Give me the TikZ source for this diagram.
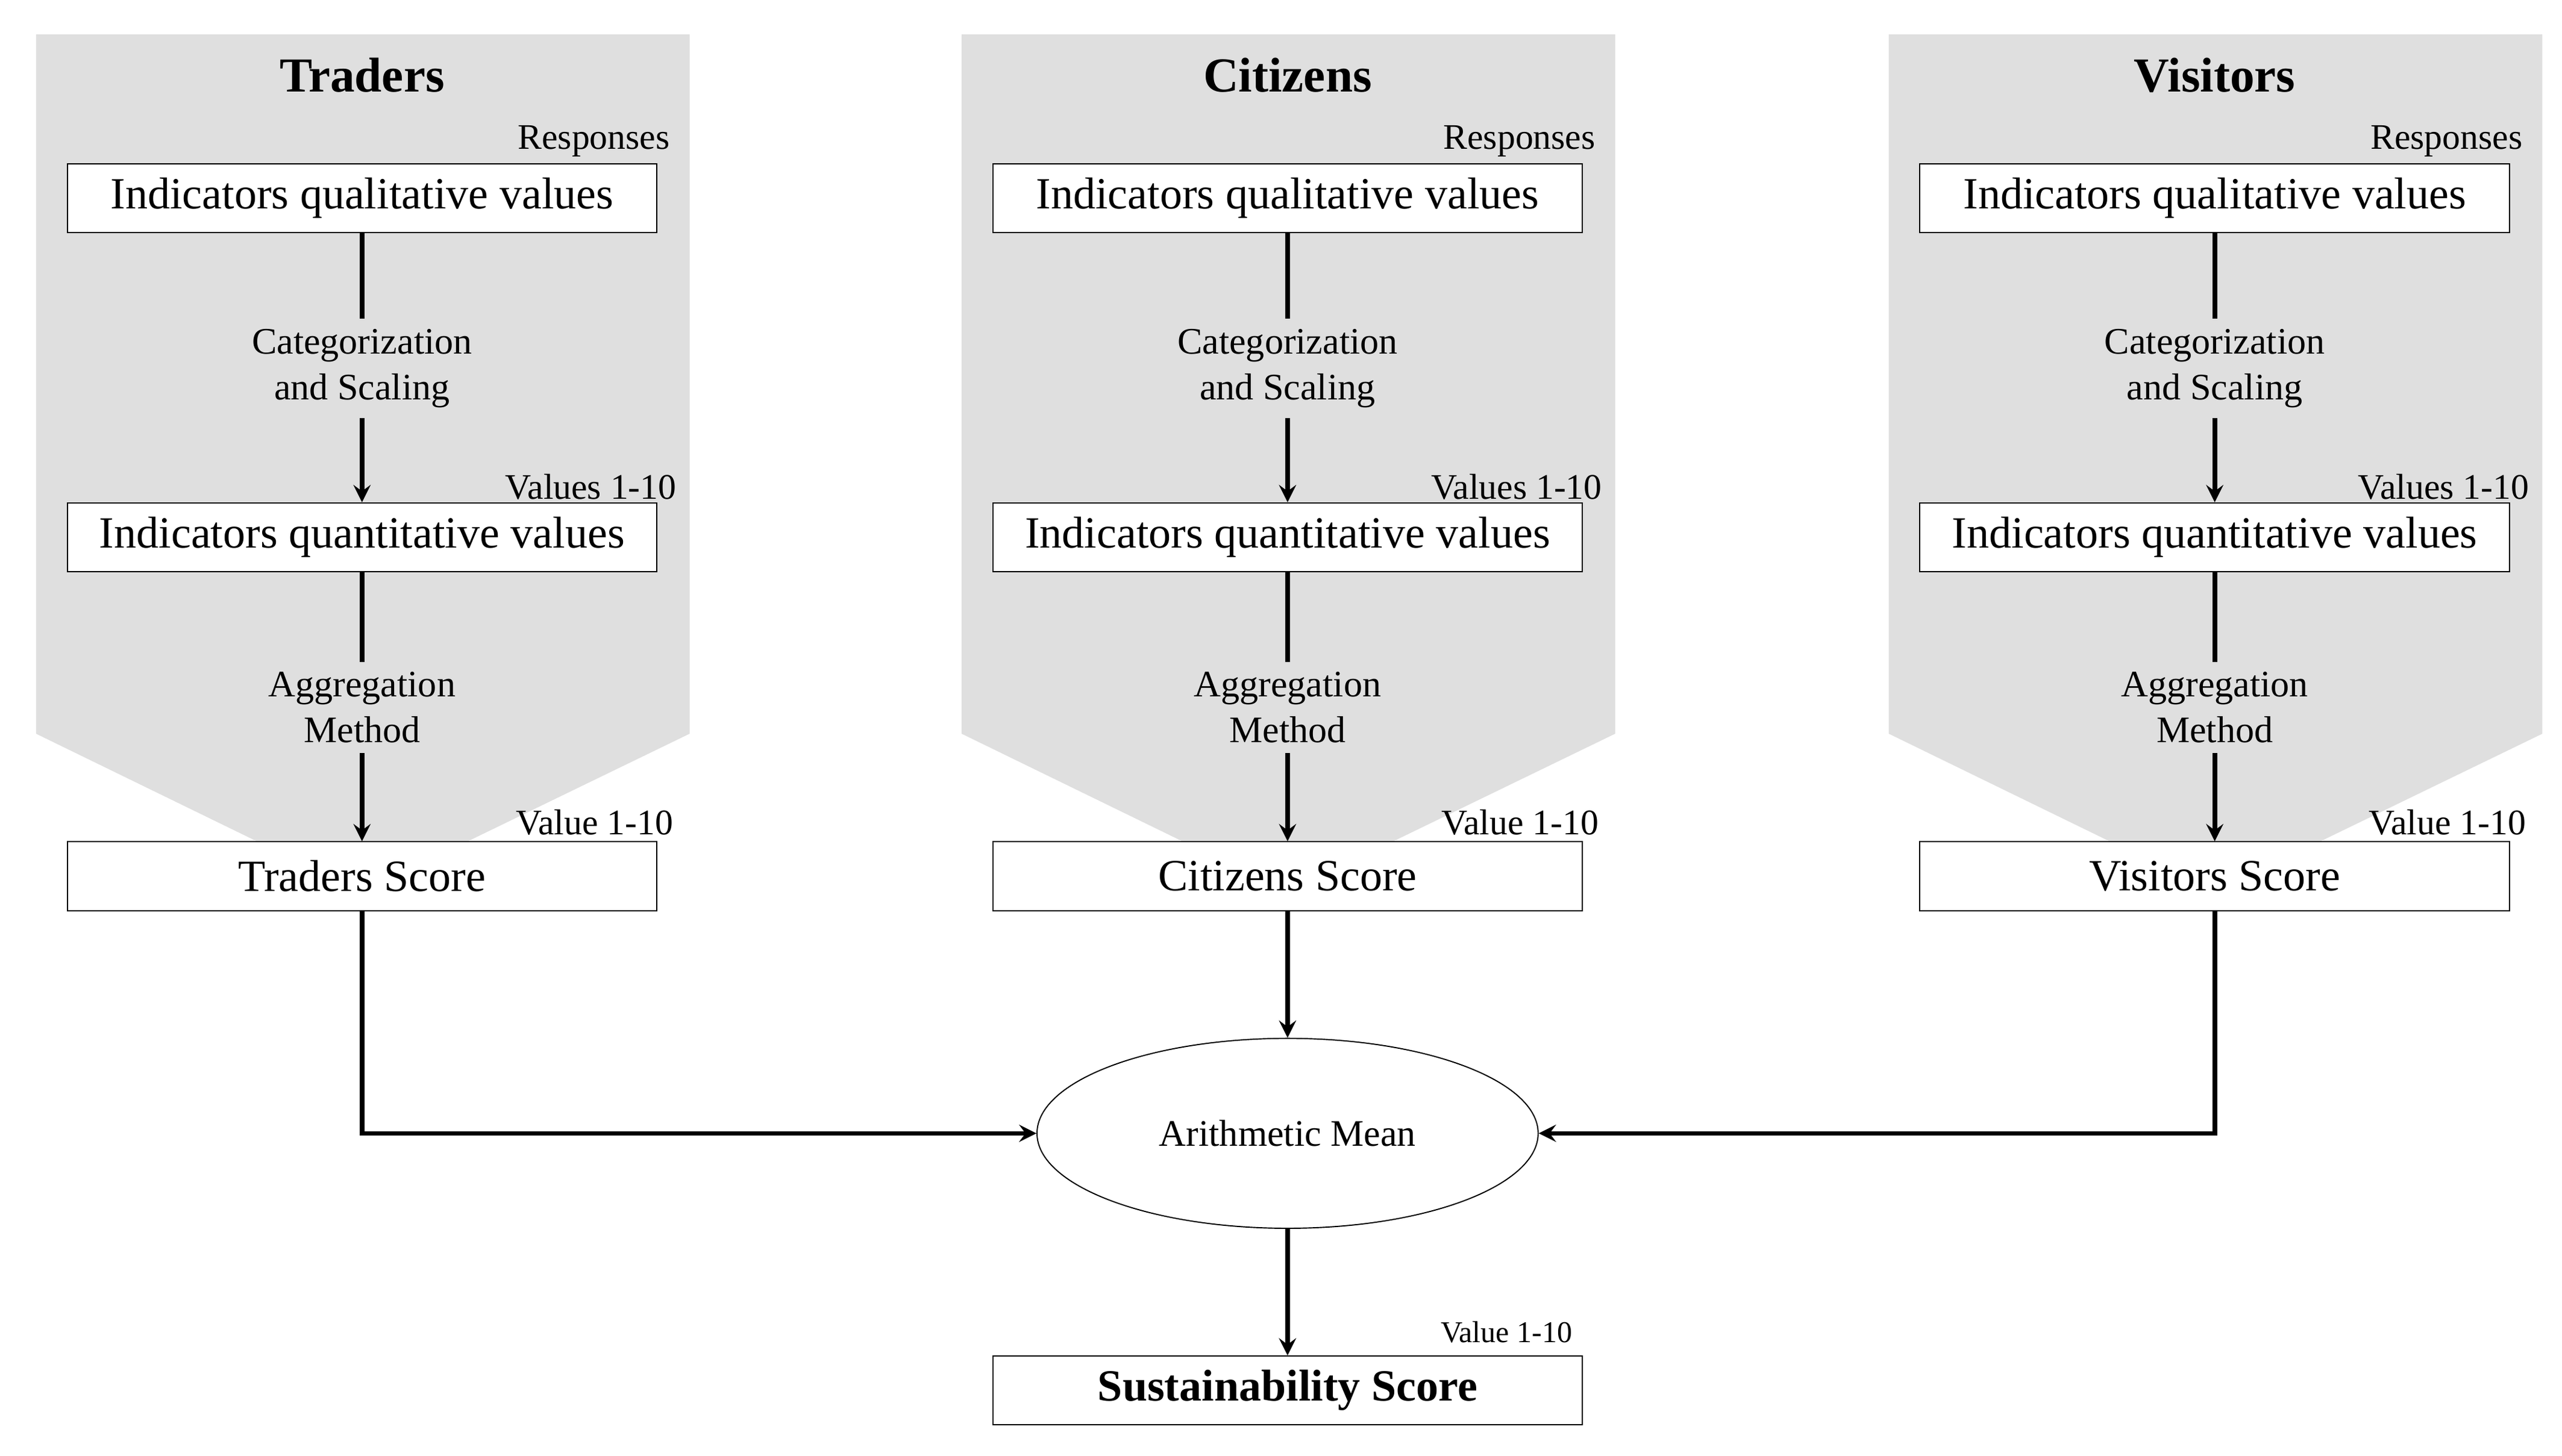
\documentclass[tikz,border=0pt]{standalone}
\usepackage{fontspec}
\setmainfont{Liberation Serif}
\usetikzlibrary{positioning,shapes.geometric,arrows}
\tikzset{
  box/.style={rectangle, draw, fill=white, minimum width=7.2cm, minimum height=0.84cm, inner sep=0pt, font=\fontsize{15.5}{17}\selectfont},
  stage/.style={align=center, font=\fontsize{13}{16}\selectfont},
  tag/.style={anchor=south east, inner sep=1pt, font=\fontsize{12.5}{14}\selectfont},
  title/.style={font=\fontsize{17}{19}\selectfont\bfseries},
  flow/.style={-stealth, line width=1.6pt},
  link/.style={line width=1.6pt}
}
\begin{document}
\begin{tikzpicture}[x=0.02cm, y=-0.02cm]
  \useasboundingbox (0,0) rectangle (1564,889);
  % three groups
  \foreach \cx/\grp in {221/Traders, 786/Citizens, 1352/Visitors}{
    \fill[gray!25] (\cx-199,21) -- (\cx+200,21) -- (\cx+200,448) -- (\cx,545) -- (\cx-199,448) -- cycle;
    \node[title] at (\cx,46) {\grp};
    \node[box] (qual\grp) at (\cx,121) {Indicators qualitative values};
    \node[box] (quant\grp) at (\cx,328) {Indicators quantitative values};
    \node[box] (score\grp) at (\cx,535) {\grp{} Score};
    \node[stage] (cat\grp) at (\cx,225) {Categorization\\and Scaling};
    \node[stage] (agg\grp) at (\cx,432) {Aggregation\\Method};
    \node[tag] at (\cx+190,98) {Responses};
    \node[tag] at (\cx+194,307) {Values 1-10};
    \node[tag] at (\cx+192,512) {Value 1-10};
    \draw[link] (qual\grp) -- (cat\grp);
    \draw[flow] (cat\grp) -- (quant\grp);
    \draw[link] (quant\grp) -- (agg\grp);
    \draw[flow] (agg\grp) -- (score\grp);
  }
  % aggregation of scores
  \node[ellipse, draw, fill=white, minimum width=6.12cm, minimum height=2.32cm, font=\fontsize{13}{15}\selectfont] (mean) at (786,692) {Arithmetic Mean};
  \node[box, font=\fontsize{15.5}{17}\selectfont\bfseries] (final) at (786,849) {Sustainability Score};
  \node[tag, font=\fontsize{10.5}{12}\selectfont] at (962,822) {Value 1-10};
  \draw[flow] (scoreTraders) |- (mean);
  \draw[flow] (scoreCitizens) -- (mean);
  \draw[flow] (scoreVisitors) |- (mean);
  \draw[flow] (mean) -- (final);
\end{tikzpicture}
\end{document}
